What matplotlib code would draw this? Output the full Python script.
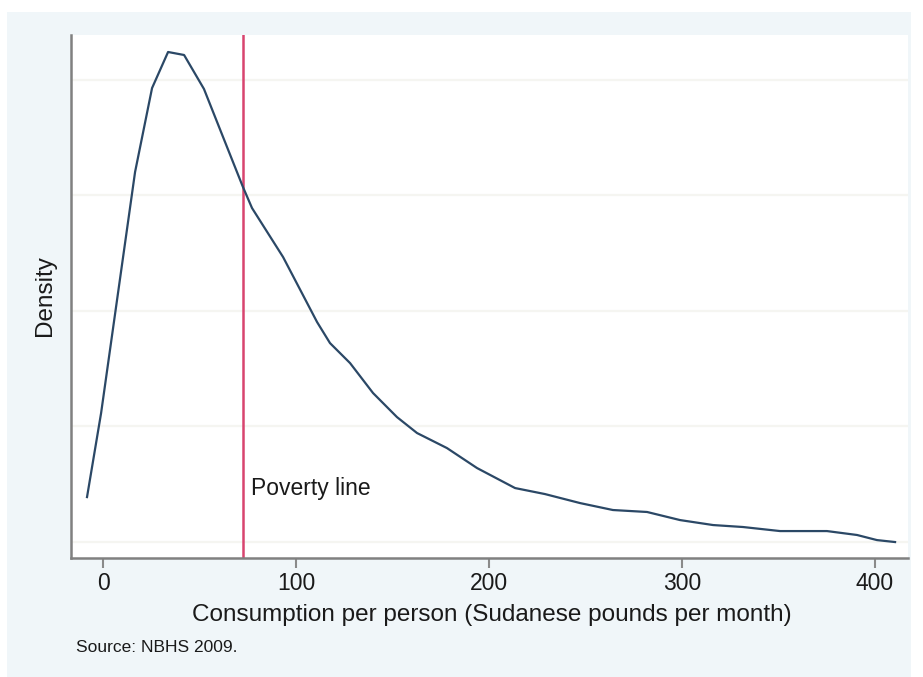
import matplotlib.pyplot as plt
from matplotlib.patches import Rectangle

# kernel density of consumption (density in 1/1000)
consumption = [-8.3, -1.0, 16.6, 25.4, 33.7, 42.0, 52.3, 62.2, 72.5, 77.2,
               93.3, 110.9, 117.6, 128.0, 139.9, 152.3, 162.7, 178.2, 193.8,
               213.5, 229.0, 247.2, 264.2, 281.9, 299.0, 316.1, 331.6, 350.8,
               375.1, 390.7, 401.0, 410.4]
density_k = [0.389, 1.116, 3.201, 3.927, 4.239, 4.213, 3.919, 3.503, 3.071,
             2.889, 2.465, 1.903, 1.721, 1.548, 1.289, 1.081, 0.943, 0.813,
             0.640, 0.467, 0.415, 0.337, 0.277, 0.260, 0.190, 0.147, 0.130,
             0.095, 0.095, 0.061, 0.017, 0.0]
density = [d / 1000 for d in density_k]

poverty_line = 72.5
xticks = [0, 100, 200, 300, 400]
grid_y = [0, 0.001, 0.002, 0.003, 0.004]

plt.rcParams['font.family'] = ['Liberation Sans', 'DejaVu Sans']

fig = plt.figure(figsize=(9.23, 6.77), dpi=100)
fig.patch.set_facecolor('white')
# light stata-like background panel
fig.patches.append(Rectangle((7 / 923, 0), 904 / 923, 665 / 677,
                             transform=fig.transFigure, facecolor='#f0f6f9',
                             edgecolor='none', zorder=-1))

ax = fig.add_axes([71 / 923, 119 / 677, 837 / 923, 523 / 677])
ax.set_facecolor('white')

for g in grid_y:
    ax.axhline(g, color='#f5f5f1', lw=1.6, zorder=0)

ax.plot(consumption, density, color='#2b4866', lw=1.6, zorder=3)
ax.axvline(poverty_line, color='#d8446f', lw=1.8, zorder=2)
ax.text(76.5, 0.000467, 'Poverty line', fontsize=16.5, va='center', ha='left',
        color='#1a1a1a')

ax.set_xlim(-16.6, 417.1)
ax.set_ylim(-0.000138, 0.004386)
ax.set_xticks(xticks)
ax.set_xticklabels([str(t) for t in xticks], fontsize=16.5, color='#1a1a1a')
ax.tick_params(axis='x', direction='out', length=7, width=1.5, color='#8a8a8a', pad=3)
ax.set_yticks([])

for s in ['top', 'right']:
    ax.spines[s].set_visible(False)
for s in ['left', 'bottom']:
    ax.spines[s].set_color('#808080')
    ax.spines[s].set_linewidth(1.8)

ax.set_xlabel('Consumption per person (Sudanese pounds per month)', fontsize=17.5,
              color='#1a1a1a')
ax.xaxis.set_label_coords(0.503, (558 - 615) / 523)
ax.xaxis.label.set_va('center')
ax.set_ylabel('Density', fontsize=17.5, color='#1a1a1a')
ax.yaxis.set_label_coords((45 - 71) / 837, (558 - 296) / 523)
ax.yaxis.label.set_va('center')

fig.text(76 / 923, 1 - 648 / 677, 'Source: NBHS 2009.', fontsize=12.5,
         va='center', ha='left', color='#1a1a1a')

fig.savefig('out.png', dpi=100)
